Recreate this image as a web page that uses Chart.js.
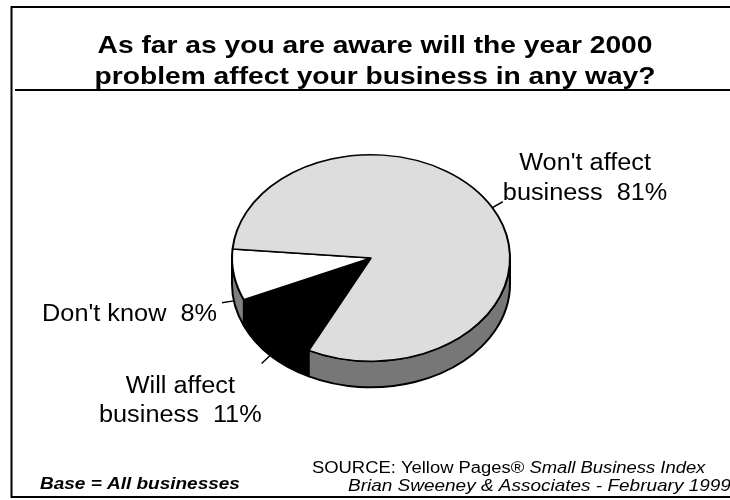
<!DOCTYPE html>
<html>
<head>
<meta charset="utf-8">
<script src="https://cdn.jsdelivr.net/npm/chart.js@4.4.1/dist/chart.umd.min.js"></script>
<style>
  html, body { margin: 0; padding: 0; background: #fff; }
  #wrap { width: 730px; height: 500px; }
</style>
</head>
<body>
<div id="wrap"><canvas id="y2k-pie"></canvas></div>
<script>
const TITLE_LINES = [
  "As far as you are aware will the year 2000",
  "problem affect your business in any way?",
];
const SLICE_LABELS = [["Will affect", "business"], ["Don't know"], ["Won't affect", "business"]];
const SLICE_VALUES = [11, 8, 81];
const FACE_COLORS = ["#000000", "#ffffff", "#dddddd"];
const SIDE_COLORS = ["#000000", "#808080", "#777777"];
const BASE_NOTE = "Base = All businesses";
const SOURCE_PLAIN = "SOURCE: Yellow Pages® ";
const SOURCE_ITALIC = "Small Business Index";
const SOURCE_CREDIT = "Brian Sweeney & Associates - February 1999";

const FONT = "'Liberation Sans', Arial, sans-serif";
const TILT = 0.743;   // vertical squash of the pie top
const DEPTH = 26;     // thickness of the pie wall, px
const LEADER = 12;
// label block placement relative to the end of its leader line
const LABEL_DX = [0, -5, 0];
const LABEL_DY = [8, -3, -52.5];
const LINE_PITCH = 29.5;

// text is drawn slightly widened, like the old slide it comes from
function wideText(ctx, text, x, y, sx) {
  ctx.save();
  ctx.translate(x, y);
  ctx.scale(sx, 1);
  ctx.fillText(text, 0, 0);
  ctx.restore();
}

function sideBand(ctx, cx, cy, rx, ry, s, e, color) {
  ctx.beginPath();
  ctx.ellipse(cx, cy, rx, ry, 0, s, e);
  ctx.ellipse(cx, cy + DEPTH, rx, ry, 0, e, s, true);
  ctx.closePath();
  ctx.fillStyle = color;
  ctx.fill();
  ctx.lineWidth = 2;
  ctx.lineJoin = "round";
  ctx.strokeStyle = "#000";
  ctx.stroke();
}

const pie3d = {
  id: "pie3d",
  beforeDatasetsDraw(chart) {
    const ctx = chart.ctx;
    const arcs = chart.getDatasetMeta(0).data;
    // front wall, only the half facing the viewer
    arcs.forEach((el, i) => {
      const rx = el.outerRadius;
      for (const off of [0, 2 * Math.PI, -2 * Math.PI]) {
        const s = Math.max(el.startAngle + off, 0);
        const e = Math.min(el.endAngle + off, Math.PI);
        if (e > s) sideBand(ctx, el.x, el.y, rx, rx * TILT, s, e, SIDE_COLORS[i]);
      }
    });
    ctx.save();
    if (arcs.length) {
      const cy = arcs[0].y;
      ctx.translate(0, cy);
      ctx.scale(1, TILT);
      ctx.translate(0, -cy);
    }
  },
  afterDatasetsDraw(chart) {
    const ctx = chart.ctx;
    ctx.restore();
    ctx.save();
    const sx = 1.1;
    ctx.font = `23px ${FONT}`;
    ctx.fillStyle = "#000";
    ctx.strokeStyle = "#000";
    ctx.lineWidth = 1.5;
    ctx.textAlign = "center";
    ctx.textBaseline = "middle";
    chart.getDatasetMeta(0).data.forEach((el, i) => {
      const mid = (el.startAngle + el.endAngle) / 2;
      const c = Math.cos(mid), s = Math.sin(mid);
      const rx = el.outerRadius;
      const ax = el.x + rx * c;
      const ay = el.y + rx * TILT * s + (s > 0 ? DEPTH : 0);
      const bx = ax + LEADER * c, by = ay + LEADER * s;
      ctx.beginPath();
      ctx.moveTo(ax, ay);
      ctx.lineTo(bx, by);
      ctx.stroke();

      const lines = SLICE_LABELS[i].slice();
      lines[lines.length - 1] += `  ${SLICE_VALUES[i]}%`;
      const w = sx * Math.max(...lines.map((t) => ctx.measureText(t).width));
      const edge = bx + LABEL_DX[i];
      const center = c > 0 ? edge + w / 2 : edge - w / 2;
      const top = by + LABEL_DY[i];
      lines.forEach((t, j) => wideText(ctx, t, center, top + 14.75 + j * LINE_PITCH, sx));
    });
    ctx.restore();
  },
};

const frame = {
  id: "frame",
  beforeDraw(chart) {
    const ctx = chart.ctx;
    ctx.save();
    ctx.fillStyle = "#fff";
    ctx.fillRect(0, 0, chart.width, chart.height);
    ctx.strokeStyle = "#000";
    ctx.lineWidth = 2;
    ctx.beginPath();
    ctx.moveTo(730, 7);
    ctx.lineTo(11.5, 7);
    ctx.lineTo(11.5, 497);
    ctx.lineTo(730, 497);
    ctx.moveTo(15, 90);
    ctx.lineTo(730, 90);
    ctx.stroke();
    ctx.restore();
  },
  afterDraw(chart) {
    const ctx = chart.ctx;
    ctx.save();
    ctx.fillStyle = "#000";
    ctx.textBaseline = "alphabetic";
    ctx.textAlign = "center";
    ctx.font = `bold 24px ${FONT}`;
    TITLE_LINES.forEach((t, j) => wideText(ctx, t, 375, 53 + j * 31, 1.175));

    ctx.textAlign = "left";
    ctx.font = `italic bold 16.5px ${FONT}`;
    wideText(ctx, BASE_NOTE, 40, 489, 1.15);
    ctx.font = `16px ${FONT}`;
    wideText(ctx, SOURCE_PLAIN, 312, 473, 1.15);
    const x2 = 312 + 1.15 * ctx.measureText(SOURCE_PLAIN).width;
    ctx.font = `italic 16px ${FONT}`;
    wideText(ctx, SOURCE_ITALIC, x2, 473, 1.15);
    ctx.font = `italic 16.5px ${FONT}`;
    wideText(ctx, SOURCE_CREDIT, 348, 491, 1.15);
    ctx.restore();
  },
};

new Chart(document.getElementById("y2k-pie"), {
  type: "pie",
  data: {
    labels: SLICE_LABELS.map((l) => l.join(" ")),
    datasets: [{
      data: SLICE_VALUES,
      backgroundColor: FACE_COLORS,
      borderColor: "#000",
      borderWidth: 2,
    }],
  },
  options: {
    responsive: true,
    maintainAspectRatio: false,
    animation: false,
    rotation: 206.6,
    layout: { padding: { left: 231, right: 219, top: 118, bottom: 102 } },
    plugins: {
      legend: { display: false },
      title: { display: false },
      tooltip: { enabled: false },
    },
  },
  plugins: [frame, pie3d],
});
</script>
</body>
</html>
